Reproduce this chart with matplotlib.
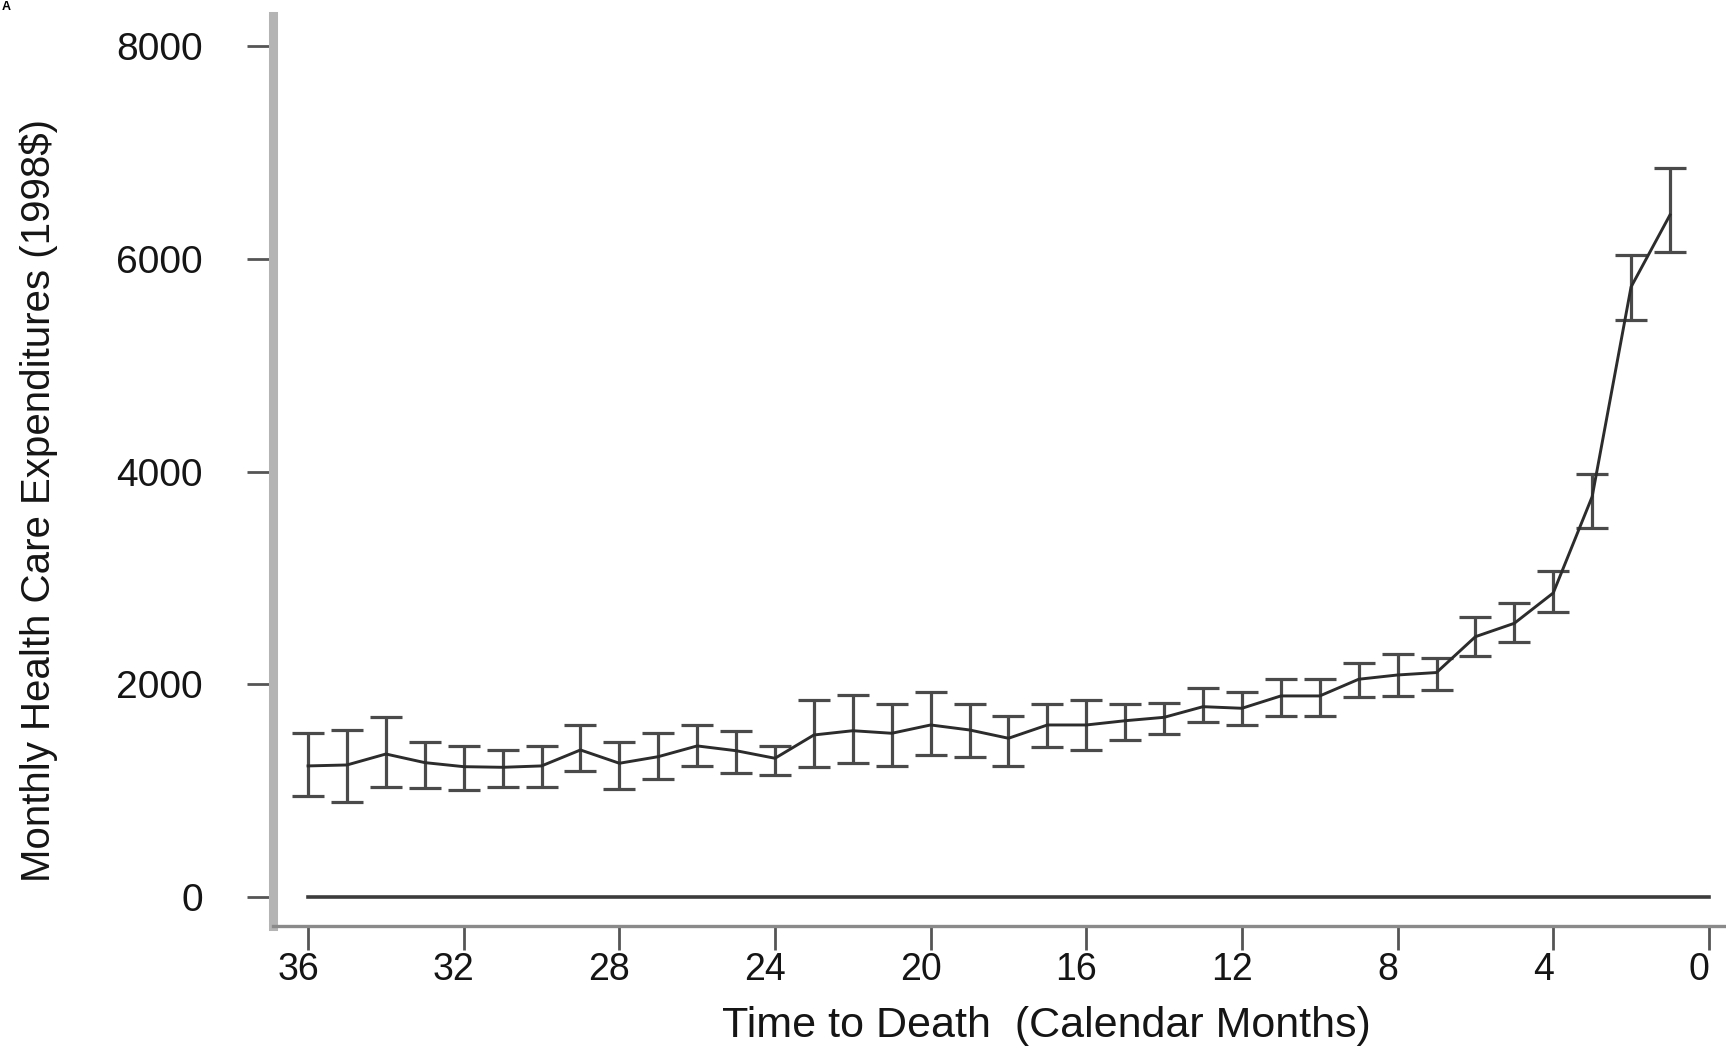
import numpy as np
import matplotlib
matplotlib.use("Agg")
import matplotlib.pyplot as plt
import matplotlib.transforms as mtransforms

plt.rcParams['font.family'] = ['Liberation Sans', 'DejaVu Sans']

# meses antes da morte (36 ... 1)
meses = list(range(36, 0, -1))

# gasto medio mensal (dolares de 1998)
gasto = [1232, 1241, 1344, 1263, 1225, 1219, 1232, 1382, 1257, 1319, 1420, 1375,
         1304, 1523, 1563, 1539, 1617, 1570, 1492, 1617, 1617, 1657, 1689, 1789,
         1774, 1890, 1890, 2047, 2087, 2110, 2447, 2573, 2858, 3763, 5735, 6412]
# limite inferior e superior do intervalo
inferior = [949, 896, 1037, 1022, 1006, 1031, 1031, 1187, 1012, 1107, 1232, 1163,
            1147, 1225, 1263, 1232, 1335, 1319, 1232, 1413, 1382, 1476, 1532, 1648,
            1617, 1702, 1702, 1883, 1890, 1950, 2266, 2400, 2676, 3466, 5424, 6063]
superior = [1539, 1570, 1695, 1460, 1422, 1382, 1422, 1617, 1460, 1539, 1617, 1563,
            1420, 1852, 1899, 1814, 1930, 1814, 1702, 1814, 1852, 1814, 1821, 1968,
            1930, 2047, 2047, 2203, 2284, 2250, 2630, 2761, 3068, 3974, 6035, 6851]

xticks = [36, 32, 28, 24, 20, 16, 12, 8, 4, 0]
yticks = [0, 2000, 4000, 6000, 8000]

gasto = np.array(gasto)
erro = [gasto - np.array(inferior), np.array(superior) - gasto]

fig = plt.figure(figsize=(17.26, 10.5), dpi=100)
ax = fig.add_axes([0.1582, 0.1184, 0.8418, 0.8659])

# linha de referencia no zero
ax.plot([36, 0], [0, 0], color='#3c3c3c', linewidth=2.6)

ax.errorbar(meses, gasto, yerr=erro, color='#2c2c2c', ecolor='#4a4a4a',
            linewidth=2.1, elinewidth=2.3, capsize=11.5, capthick=2.3)

ax.set_xlim(36.9, -0.44)
ax.set_ylim(-270, 8278)
ax.set_xticks(xticks)
ax.set_yticks(yticks)
ax.set_xticklabels([str(t) for t in xticks], fontsize=27, color='#151515')
ax.set_yticklabels([str(t) for t in yticks], fontsize=28, color='#151515')

ax.spines['top'].set_visible(False)
ax.spines['right'].set_visible(False)
ax.spines['left'].set_color('#b4b4b4')
ax.spines['left'].set_linewidth(6.5)
ax.spines['bottom'].set_color('#8a8a8a')
ax.spines['bottom'].set_linewidth(2.4)

ax.tick_params(axis='y', direction='out', length=18.5, width=2.0, color='#555555', pad=32)
ax.tick_params(axis='x', direction='out', length=17, width=2.0, color='#555555', pad=2)

# no original os numeros do eixo x ficam um pouco a esquerda dos tracos
desloca = mtransforms.ScaledTranslation(-0.10, 0, fig.dpi_scale_trans)
for tick in ax.xaxis.get_major_ticks():
    tick.label1.set_transform(tick.label1.get_transform() + desloca)

ax.set_xlabel('Time to Death  (Calendar Months)', fontsize=31, color='#151515')
ax.xaxis.set_label_coords(0.532, -0.1103)
ax.xaxis.label.set_va('center')
ax.set_ylabel('Monthly Health Care Expenditures (1998\\$)', fontsize=29, color='#151515')
ax.yaxis.set_label_coords(-0.1614, 0.468)
ax.yaxis.label.set_va('center')

# letra do painel no canto
fig.text(0.001, 0.999, 'A', fontsize=9, fontweight='bold', va='top', ha='left')

fig.savefig('out.png', dpi=100)
